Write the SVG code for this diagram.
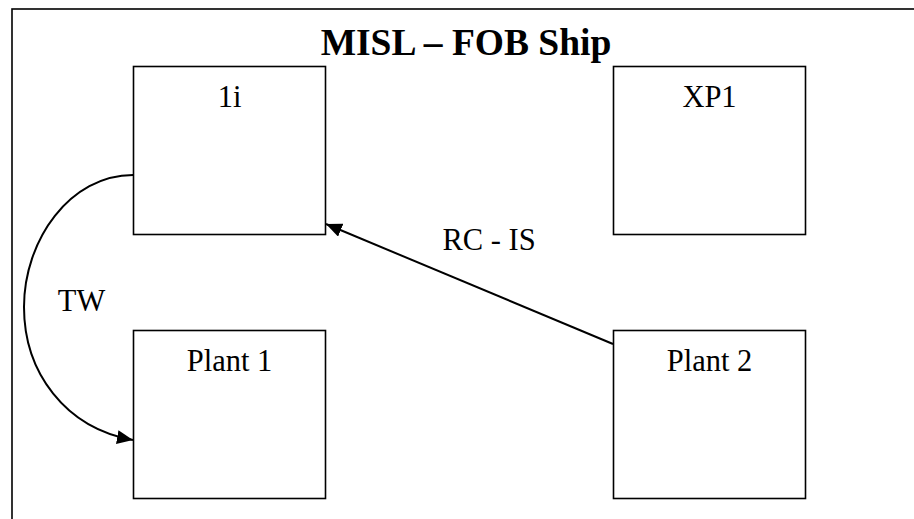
<svg xmlns="http://www.w3.org/2000/svg" width="914" height="519" viewBox="0 0 914 519">
<style>
.box{fill:#fff;stroke:#000;stroke-width:1.6}
.lbl{font-family:"Liberation Serif","Times New Roman",serif;font-size:30.5px;fill:#000;text-anchor:middle}
.conn{fill:none;stroke:#000;stroke-width:2}
</style>
<defs>
<marker id="arr" markerUnits="userSpaceOnUse" markerWidth="18" markerHeight="14" refX="16" refY="7" orient="auto">
<path d="M0,0 L16,7 L0,14 Z" fill="#000"/>
</marker>
</defs>
<rect x="12" y="9" width="920" height="530" fill="#fff" stroke="#000" stroke-width="1.6"/>
<text x="466" y="55" font-family="Liberation Serif,'Times New Roman',serif" font-size="37.5" font-weight="bold" text-anchor="middle">MISL – FOB Ship</text>
<g id="n1i"><rect class="box" x="133.5" y="66.5" width="192" height="168"/><text class="lbl" x="229.5" y="107">1i</text></g>
<g id="nXP1"><rect class="box" x="613.5" y="66.5" width="192" height="168"/><text class="lbl" x="709.5" y="107">XP1</text></g>
<g id="nPlant1"><rect class="box" x="133.5" y="330.5" width="192" height="168"/><text class="lbl" x="229.5" y="371">Plant 1</text></g>
<g id="nPlant2"><rect class="box" x="613.5" y="330.5" width="192" height="168"/><text class="lbl" x="709.5" y="371">Plant 2</text></g>
<g id="connectors">
<path class="conn" d="M133,175 C70,175 24,240 24,307 C24,372 65,428 133,440" marker-end="url(#arr)"/>
<line class="conn" x1="613" y1="344" x2="326" y2="224" marker-end="url(#arr)"/>
<text class="lbl" x="81.5" y="311">TW</text>
<text class="lbl" x="489" y="250">RC - IS</text>
</g>
</svg>
